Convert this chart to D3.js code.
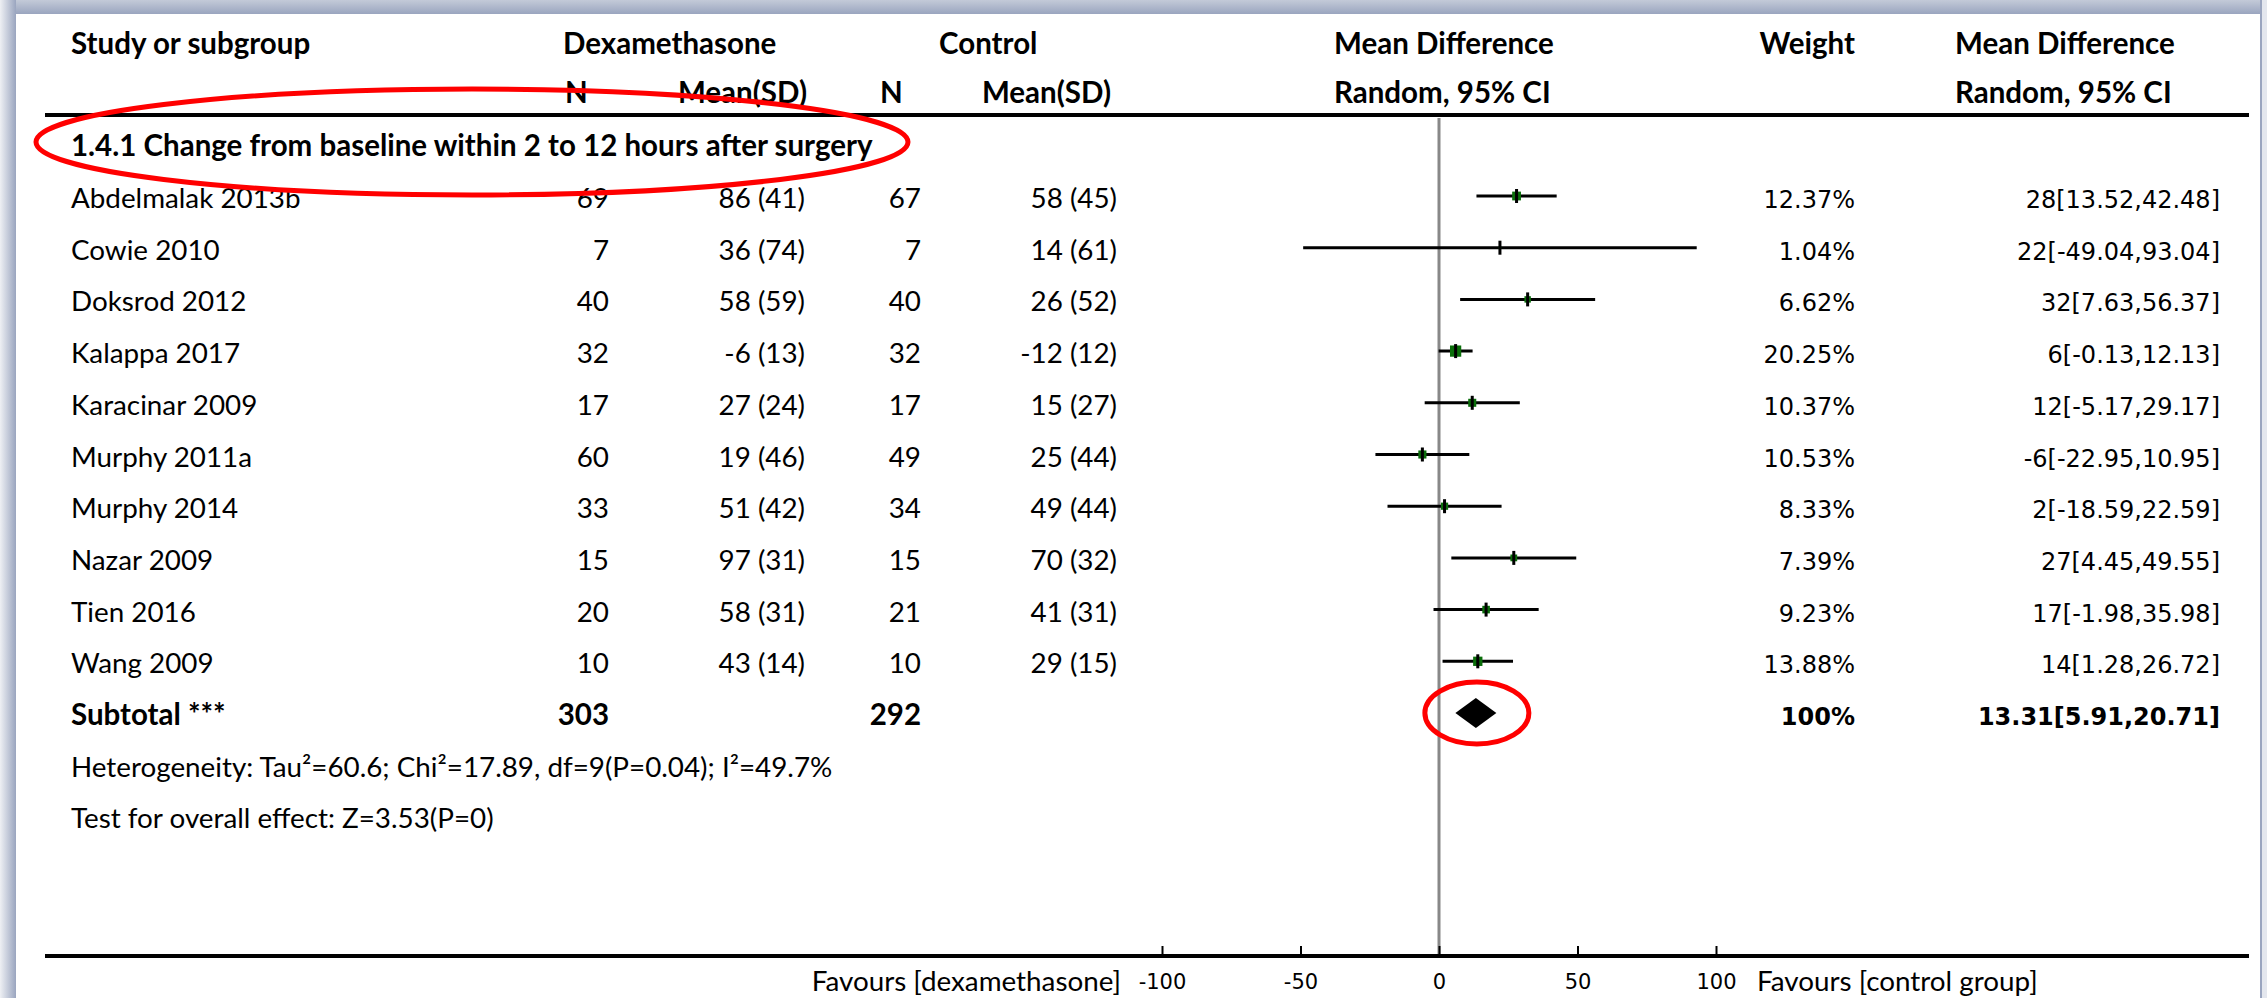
<!DOCTYPE html>
<html>
<head>
<meta charset="utf-8">
<script src="https://cdn.jsdelivr.net/npm/d3@7"></script>
<style>
  html, body { margin: 0; padding: 0; background: #fff; }
  #chart { width: 2267px; height: 998px; }
  .txt { font-family: Lato, 'Noto Sans', sans-serif; font-size: 27.8px; fill: #000; }
  .txt.bold { font-size: 29.5px; }
  .num { font-family: 'DejaVu Sans', Verdana, sans-serif; font-size: 24px; fill: #000; }
  .bold { font-weight: bold; }
  .axis text { font-family: 'DejaVu Sans', Verdana, sans-serif; font-size: 21px; fill: #000; }
  .axis line { stroke: #000; stroke-width: 2px; }
</style>
</head>
<body>
<div id="chart"></div>
<script>
// Study data
const studies = ['Abdelmalak 2013b', 'Cowie 2010', 'Doksrod 2012', 'Kalappa 2017', 'Karacinar 2009',
    'Murphy 2011a', 'Murphy 2014', 'Nazar 2009', 'Tien 2016', 'Wang 2009'];
const dexN = [69, 7, 40, 32, 17, 60, 33, 15, 20, 10];
const dexMean = [86, 36, 58, -6, 27, 19, 51, 97, 58, 43];
const dexSD = [41, 74, 59, 13, 24, 46, 42, 31, 31, 14];
const ctrlN = [67, 7, 40, 32, 17, 49, 34, 15, 21, 10];
const ctrlMean = [58, 14, 26, -12, 15, 25, 49, 70, 41, 29];
const ctrlSD = [45, 61, 52, 12, 27, 44, 44, 32, 31, 15];
const weights = [12.37, 1.04, 6.62, 20.25, 10.37, 10.53, 8.33, 7.39, 9.23, 13.88];
const md = [28, 22, 32, 6, 12, -6, 2, 27, 17, 14];
const ciLow = [13.52, -49.04, 7.63, -0.13, -5.17, -22.95, -18.59, 4.45, -1.98, 1.28];
const ciHigh = [42.48, 93.04, 56.37, 12.13, 29.17, 10.95, 22.59, 49.55, 35.98, 26.72];

// Pooled result
const subtotal = { dexN: 303, ctrlN: 292, weight: '100%', md: 13.31, low: 5.91, high: 20.71 };
const subgroupTitle = '1.4.1 Change from baseline within 2 to 12 hours after surgery';
const heterogeneity = 'Heterogeneity: Tau²=60.6; Chi²=17.89, df=9(P=0.04); I²=49.7%';
const overallTest = 'Test for overall effect: Z=3.53(P=0)';
const xTicks = [-100, -50, 0, 50, 100];
const favourLeft = 'Favours [dexamethasone]';
const favourRight = 'Favours [control group]';

const W = 2267, H = 998;
const svg = d3.select('#chart').append('svg')
    .attr('width', W)
    .attr('height', H);

// window shadow frame
const defs = svg.append('defs');
const gTop = defs.append('linearGradient').attr('id', 'shTop').attr('x1', 0).attr('y1', 0).attr('x2', 0).attr('y2', 1);
gTop.append('stop').attr('offset', '0%').attr('stop-color', '#c3cad8');
gTop.append('stop').attr('offset', '100%').attr('stop-color', '#9aa5bf');
const gLeft = defs.append('linearGradient').attr('id', 'shLeft').attr('x1', 0).attr('y1', 0).attr('x2', 1).attr('y2', 0);
gLeft.append('stop').attr('offset', '0%').attr('stop-color', '#eef0f4');
gLeft.append('stop').attr('offset', '100%').attr('stop-color', '#9aa5bf');

svg.append('rect').attr('width', W).attr('height', H).attr('fill', '#fff');
svg.append('rect').attr('x', 0).attr('y', 0).attr('width', W).attr('height', 14).attr('fill', 'url(#shTop)');
svg.append('rect').attr('x', 0).attr('y', 0).attr('width', 16).attr('height', H).attr('fill', 'url(#shLeft)');
svg.append('rect').attr('x', 2261).attr('y', 0).attr('width', 6).attr('height', H).attr('fill', '#e4e7ee');
svg.append('line').attr('x1', 2261).attr('x2', 2261).attr('y1', 0).attr('y2', H)
    .attr('stroke', '#9aa5bf').attr('stroke-width', 2);

// Scales
const x = d3.scaleLinear().domain([-100, 100]).range([1162, 1716]);
const rowY = d3.scaleLinear().domain([0, 10]).range([198, 715]);
const textDy = 10;

// Column positions
const col = {
    study: 71, dexN: 609, dexMean: 805, ctrlN: 921, ctrlMean: 1117,
    weight: 1855, ci: 2220
};

// Header
const header = svg.append('g');
const hdr = (t, xx, yy, anchor) => header.append('text')
    .attr('class', 'txt bold').attr('x', xx).attr('y', yy)
    .attr('text-anchor', anchor || 'start').text(t);
hdr('Study or subgroup', col.study, 54);
hdr('Dexamethasone', 563, 54);
hdr('Control', 939, 54);
hdr('Mean Difference', 1334, 54);
hdr('Weight', col.weight, 54, 'end');
hdr('Mean Difference', 1955, 54);
hdr('N', 565, 103);
hdr('Mean(SD)', col.dexMean + 2, 103, 'end');
hdr('N', 880, 103);
hdr('Mean(SD)', col.ctrlMean - 6, 103, 'end');
hdr('Random, 95% CI', 1334, 103);
hdr('Random, 95% CI', 1955, 103);

svg.append('line').attr('x1', 45).attr('x2', 2249).attr('y1', 115).attr('y2', 115)
    .attr('stroke', '#000').attr('stroke-width', 4);

// zero line
svg.append('line').attr('x1', x(0)).attr('x2', x(0)).attr('y1', 118).attr('y2', 956)
    .attr('stroke', '#888').attr('stroke-width', 3);

// subgroup heading
const title = svg.append('text').attr('class', 'txt bold')
    .attr('x', col.study).attr('y', 156).text(subgroupTitle);

// study rows
const rows = svg.selectAll('.row').data(studies).enter().append('g').attr('class', 'row');
rows.append('text').attr('class', 'txt').attr('x', col.study)
    .attr('y', (d, i) => rowY(i) + textDy).text(d => d);
rows.append('text').attr('class', 'txt').attr('x', col.dexN).attr('text-anchor', 'end')
    .attr('y', (d, i) => rowY(i) + textDy).text((d, i) => dexN[i]);
rows.append('text').attr('class', 'txt').attr('x', col.dexMean).attr('text-anchor', 'end')
    .attr('y', (d, i) => rowY(i) + textDy).text((d, i) => `${dexMean[i]} (${dexSD[i]})`);
rows.append('text').attr('class', 'txt').attr('x', col.ctrlN).attr('text-anchor', 'end')
    .attr('y', (d, i) => rowY(i) + textDy).text((d, i) => ctrlN[i]);
rows.append('text').attr('class', 'txt').attr('x', col.ctrlMean).attr('text-anchor', 'end')
    .attr('y', (d, i) => rowY(i) + textDy).text((d, i) => `${ctrlMean[i]} (${ctrlSD[i]})`);
rows.append('text').attr('class', 'num').attr('x', col.weight).attr('text-anchor', 'end')
    .attr('y', (d, i) => rowY(i) + textDy).text((d, i) => weights[i].toFixed(2) + '%');
rows.append('text').attr('class', 'num').attr('x', col.ci).attr('text-anchor', 'end')
    .attr('y', (d, i) => rowY(i) + textDy).text((d, i) => `${md[i]}[${ciLow[i]},${ciHigh[i]}]`);

// CI lines + markers
rows.append('line')
    .attr('x1', (d, i) => x(ciLow[i])).attr('x2', (d, i) => x(ciHigh[i]))
    .attr('y1', (d, i) => rowY(i) - 2).attr('y2', (d, i) => rowY(i) - 2)
    .attr('stroke', '#000').attr('stroke-width', 3);
const boxSize = w => Math.sqrt(w) * 2.5;
rows.append('rect')
    .attr('x', (d, i) => x(md[i]) - boxSize(weights[i]) / 2)
    .attr('y', (d, i) => rowY(i) - 2 - boxSize(weights[i]) / 2)
    .attr('width', (d, i) => boxSize(weights[i]))
    .attr('height', (d, i) => boxSize(weights[i]))
    .attr('fill', '#0a6e0a');
rows.append('rect')
    .attr('x', (d, i) => x(md[i]) - 1.5)
    .attr('y', (d, i) => rowY(i) - 9)
    .attr('width', 3).attr('height', 14)
    .attr('fill', '#000');

// subtotal row
const sy = rowY(10);
svg.append('text').attr('class', 'txt bold').attr('x', col.study).attr('y', sy + textDy).text('Subtotal ***');
svg.append('text').attr('class', 'txt bold').attr('x', col.dexN).attr('text-anchor', 'end')
    .attr('y', sy + textDy).text(subtotal.dexN);
svg.append('text').attr('class', 'txt bold').attr('x', col.ctrlN).attr('text-anchor', 'end')
    .attr('y', sy + textDy).text(subtotal.ctrlN);
svg.append('text').attr('class', 'num bold').attr('x', col.weight).attr('text-anchor', 'end')
    .attr('y', sy + textDy).text(subtotal.weight);
svg.append('text').attr('class', 'num bold').attr('x', col.ci).attr('text-anchor', 'end')
    .attr('y', sy + textDy).text(`${subtotal.md}[${subtotal.low},${subtotal.high}]`);

const dy = sy - 2;
svg.append('path')
    .attr('d', `M${x(subtotal.low)},${dy} L${x(subtotal.md)},${dy - 15} L${x(subtotal.high)},${dy} L${x(subtotal.md)},${dy + 15} Z`)
    .attr('fill', '#000');

svg.append('text').attr('class', 'txt').attr('x', col.study).attr('y', rowY(11) + textDy).text(heterogeneity);
svg.append('text').attr('class', 'txt').attr('x', col.study).attr('y', rowY(12) + textDy).text(overallTest);

// bottom axis
const axisY = 956;
svg.append('line').attr('x1', 45).attr('x2', 2249).attr('y1', axisY).attr('y2', axisY)
    .attr('stroke', '#000').attr('stroke-width', 4);
const axis = d3.axisBottom(x).tickValues(xTicks).tickFormat(d => String(d))
    .tickSizeInner(-10).tickSizeOuter(0).tickPadding(18);
const ax = svg.append('g').attr('class', 'axis')
    .attr('transform', `translate(0,${axisY})`)
    .call(axis);
ax.select('.domain').remove();

svg.append('text').attr('class', 'txt').attr('x', 1121).attr('y', 991)
    .attr('text-anchor', 'end').text(favourLeft);
svg.append('text').attr('class', 'txt').attr('x', 1757).attr('y', 991).text(favourRight);

// red annotation ellipses
const tb = title.node().getBBox();
svg.append('ellipse')
    .attr('cx', tb.x + tb.width / 2).attr('cy', 142)
    .attr('rx', tb.width / 2 + 35).attr('ry', 53)
    .attr('fill', 'none').attr('stroke', '#f00').attr('stroke-width', 5);
svg.append('ellipse')
    .attr('cx', x(subtotal.md) + 1).attr('cy', dy)
    .attr('rx', 52).attr('ry', 31)
    .attr('fill', 'none').attr('stroke', '#f00').attr('stroke-width', 5);
</script>
</body>
</html>
